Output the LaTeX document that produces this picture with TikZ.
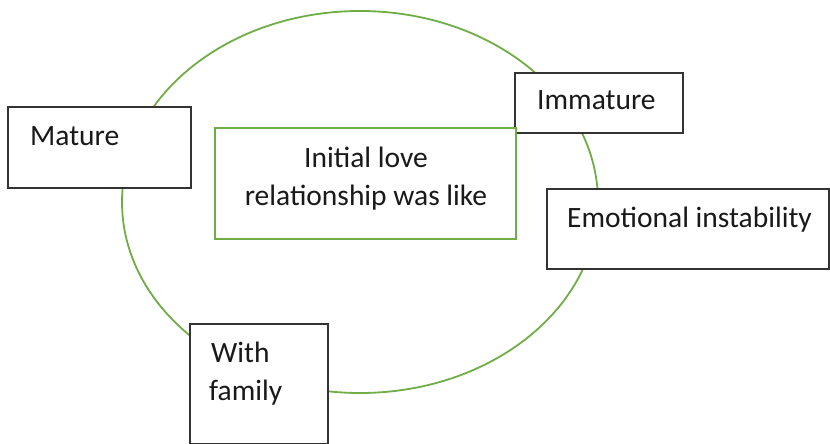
\documentclass[tikz,border=0pt]{standalone}
\usepackage{fontspec}
\setmainfont{Carlito}
\definecolor{offgreen}{HTML}{70AD47}
\definecolor{boxline}{HTML}{333333}
\begin{document}
\begin{tikzpicture}[x=1pt,y=-1pt,
  catbox/.style={draw=boxline,line width=2pt,fill=white,rectangle,inner sep=0pt},
  mainbox/.style={draw=offgreen,line width=2pt,fill=white,rectangle,inner sep=0pt},
  lbl/.style={inner sep=0pt,font=\fontsize{29.5}{37}\selectfont,text=black!90}]
\useasboundingbox (0,0) rectangle (830,444);
\draw[offgreen,line width=1.8pt] (360,202) ellipse [x radius=238, y radius=191];
% boxes
\node[catbox,minimum width=183pt,minimum height=81pt] (mature) at (99.5,147.5) {};
\node[catbox,minimum width=168pt,minimum height=60pt] (immature) at (599,103) {};
\node[mainbox,minimum width=301pt,minimum height=111pt] (center) at (365.5,183.5) {};
\node[catbox,minimum width=282pt,minimum height=80pt] (emotion) at (688,229) {};
\node[catbox,minimum width=138pt,minimum height=120pt] (family) at (259,384) {};
% texts
\node[lbl,anchor=base west] (tmature) at (30,145) {Mature};
\node[lbl,anchor=base west] (timmature) at (537,110) {Immature};
\node[lbl,anchor=base west] (temotion) at (567,227) {Emotional instability};
\node[lbl,anchor=base west] (twith) at (211,362) {With};
\node[lbl,anchor=base west] (tfamily) at (209,400) {family};
\node[lbl,anchor=base] (tinit) at (366,167) {Initial love};
\node[lbl,anchor=base] (trel) at (366,205) {relationship was like};
\end{tikzpicture}
\end{document}
